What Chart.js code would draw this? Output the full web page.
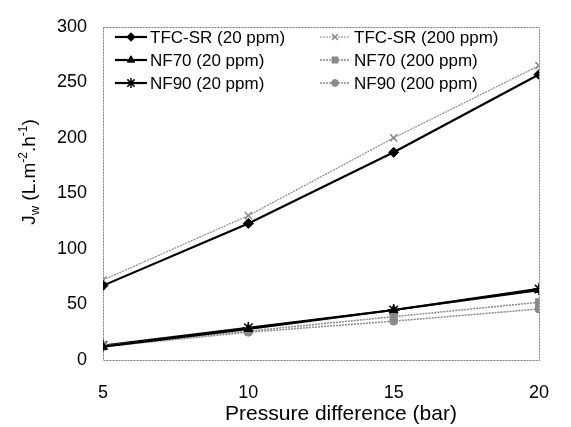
<!DOCTYPE html>
<html>
<head>
<meta charset="utf-8">
<script src="https://cdn.jsdelivr.net/npm/chart.js@4.4.1/dist/chart.umd.min.js"></script>
<style>
html,body{margin:0;padding:0;background:#fff;}
#wrap{width:571px;height:427px;}
</style>
</head>
<body>
<div id="wrap"><canvas id="c" width="571" height="427"></canvas></div>
<script>
const pressures = [5, 10, 15, 20];
const tfc20 = [67, 123, 187, 257];
const tfc200 = [72, 130, 200, 265];
const nf70_20 = [12, 28, 45, 63];
const nf70_200 = [13, 26, 39, 52];
const nf90_20 = [13, 29, 45, 64];
const nf90_200 = [12, 25, 35, 46];
const seriesLabels = ['TFC-SR (20 ppm)', 'TFC-SR (200 ppm)', 'NF70 (20 ppm)', 'NF70 (200 ppm)', 'NF90 (20 ppm)', 'NF90 (200 ppm)'];
const yTicks = [0, 50, 100, 150, 200, 250, 300];
const xTicks = [5, 10, 15, 20];

const FONT = "'Liberation Sans', Arial, sans-serif";
const toXY = arr => arr.map((v, i) => ({x: pressures[i], y: v}));

function ds(label, data, color, width, style, radius, dash) {
  return {
    label, data: toXY(data), borderColor: color, backgroundColor: color,
    borderWidth: width, pointStyle: style, pointRadius: radius, pointHoverRadius: radius,
    pointBorderColor: color, pointBackgroundColor: color, pointBorderWidth: style === 'star' || style === 'crossRot' ? 1.5 : 1,
    borderDash: dash || [], tension: 0, fill: false
  };
}

const datasets = [
  ds(seriesLabels[0], tfc20, '#000', 2.2, 'rectRot', 5),
  ds(seriesLabels[1], tfc200, '#8a8a8a', 1.2, 'crossRot', 5, [2, 1]),
  ds(seriesLabels[2], nf70_20, '#000', 2.2, 'triangle', 5),
  ds(seriesLabels[3], nf70_200, '#8a8a8a', 1.5, 'rect', 5, [2, 1]),
  ds(seriesLabels[4], nf90_20, '#000', 2.2, 'star', 6),
  ds(seriesLabels[5], nf90_200, '#8a8a8a', 1.5, 'circle', 4, [2, 1])
];

const framePlugin = {
  id: 'frame',
  beforeDatasetsDraw(chart) {
    const {ctx, chartArea: a} = chart;
    ctx.save();
    ctx.strokeStyle = '#7a7a7a';
    ctx.lineWidth = 1;
    ctx.setLineDash([2, 1]);
    ctx.strokeRect(Math.round(a.left) + 0.5, Math.round(a.top) + 0.5, Math.round(a.right - a.left), Math.round(a.bottom - a.top));
    ctx.restore();
  }
};

const legendPlugin = {
  id: 'customLegend',
  afterDraw(chart) {
    const ctx = chart.ctx;
    const cols = [{lx0: 115, lx1: 147, tx: 150}, {lx0: 320, lx1: 350, tx: 354}];
    const rows = [37, 60, 83];
    ctx.save();
    chart.data.datasets.forEach((d, i) => {
      const c = cols[i % 2], y = rows[Math.floor(i / 2)];
      ctx.save();
      ctx.strokeStyle = d.borderColor;
      ctx.lineWidth = d.borderWidth;
      ctx.setLineDash(d.borderDash || []);
      ctx.beginPath();
      ctx.moveTo(c.lx0, y);
      ctx.lineTo(c.lx1, y);
      ctx.stroke();
      ctx.restore();
      ctx.save();
      ctx.fillStyle = d.pointBackgroundColor;
      ctx.strokeStyle = d.pointBorderColor;
      ctx.lineWidth = d.pointBorderWidth;
      Chart.helpers.drawPoint(ctx, {pointStyle: d.pointStyle, radius: d.pointRadius * 0.85, borderWidth: d.pointBorderWidth, rotation: 0}, (c.lx0 + c.lx1) / 2, y);
      ctx.restore();
      ctx.fillStyle = '#000';
      ctx.font = '17px ' + FONT;
      ctx.textBaseline = 'middle';
      ctx.textAlign = 'left';
      ctx.fillText(d.label, c.tx, y + 1);
    });
    ctx.restore();
  }
};

const titlePlugin = {
  id: 'axisTitles',
  afterDraw(chart) {
    const ctx = chart.ctx;
    ctx.save();
    ctx.fillStyle = '#000';
    ctx.textBaseline = 'alphabetic';
    // x title
    ctx.font = '21px ' + FONT;
    ctx.textAlign = 'center';
    ctx.fillText('Pressure difference (bar)', 341, 420);
    // y title with sub/superscripts
    const parts = [
      {t: 'J', s: 19, dy: 0},
      {t: 'w', s: 13, dy: 4},
      {t: ' (L.m', s: 19, dy: 0},
      {t: '-2', s: 12, dy: -8},
      {t: '.h', s: 19, dy: 0},
      {t: '-1', s: 12, dy: -8},
      {t: ')', s: 19, dy: 0}
    ];
    let total = 0;
    parts.forEach(p => { ctx.font = p.s + 'px ' + FONT; p.w = ctx.measureText(p.t).width; total += p.w; });
    ctx.translate(35, 172);
    ctx.rotate(-Math.PI / 2);
    ctx.textAlign = 'left';
    let x = -total / 2;
    parts.forEach(p => {
      ctx.font = p.s + 'px ' + FONT;
      ctx.fillText(p.t, x, p.dy);
      x += p.w;
    });
    ctx.restore();
  }
};

new Chart(document.getElementById('c'), {
  type: 'line',
  data: {datasets},
  options: {
    responsive: false,
    animation: false,
    devicePixelRatio: 1,
    layout: {padding: {top: 22, right: 12, left: 0, bottom: 0}},
    plugins: {legend: {display: false}, tooltip: {enabled: false}, title: {display: false}},
    scales: {
      x: {
        type: 'linear', min: 5, max: 20,
        afterBuildTicks: s => { s.ticks = xTicks.map(v => ({value: v})); },
        afterFit: s => { s.height = 67; },
        grid: {display: false, drawTicks: false},
        border: {display: false},
        ticks: {color: '#000', font: {size: 18, family: FONT}, padding: 22, maxRotation: 0, autoSkip: false}
      },
      y: {
        type: 'linear', min: 0, max: 300,
        afterBuildTicks: s => { s.ticks = yTicks.map(v => ({value: v})); },
        afterFit: s => { s.width = 103; },
        grid: {display: false, drawTicks: false},
        border: {display: false},
        ticks: {color: '#000', font: {size: 18, family: FONT}, padding: 16, autoSkip: false}
      }
    }
  },
  plugins: [framePlugin, legendPlugin, titlePlugin]
});
</script>
</body>
</html>
